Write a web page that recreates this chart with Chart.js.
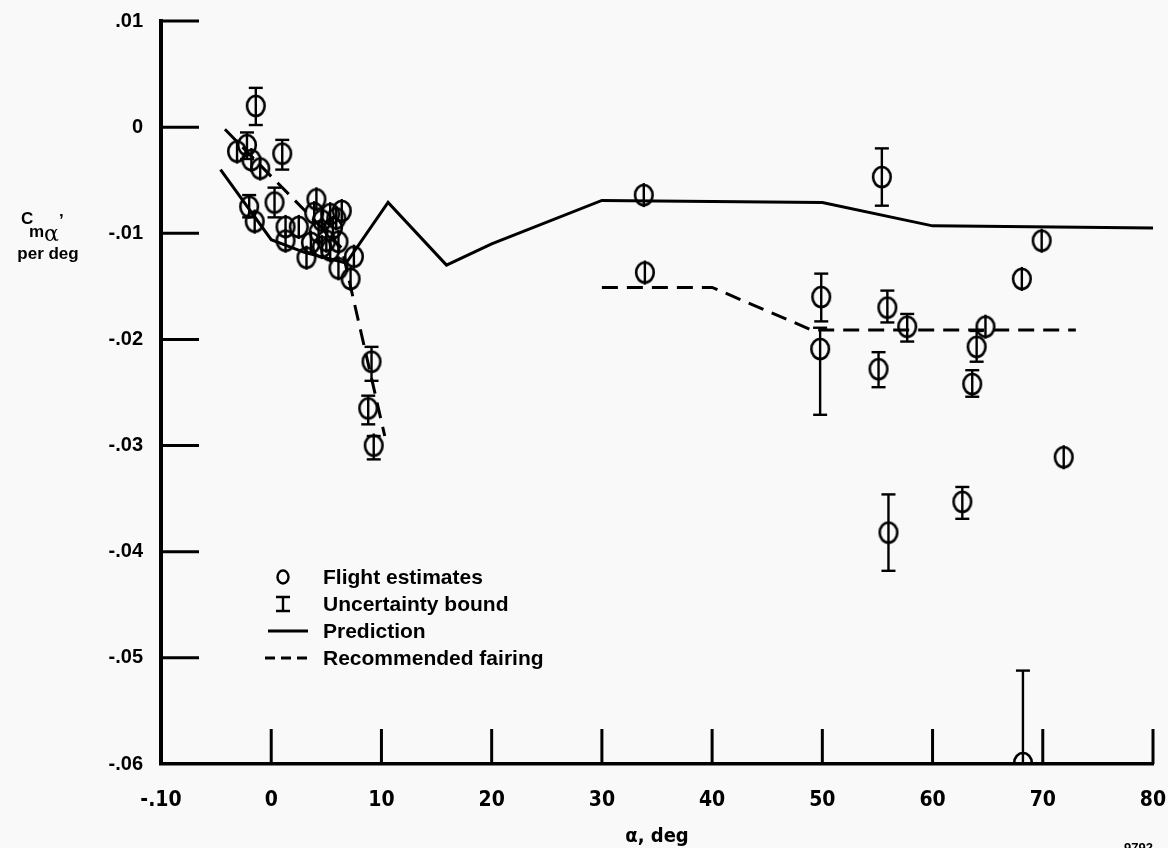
<!DOCTYPE html>
<html>
<head>
<meta charset="utf-8">
<script src="https://cdn.jsdelivr.net/npm/chart.js@4.4.0/dist/chart.umd.min.js"></script>
<style>
  html, body { margin: 0; padding: 0; background: #f9f9f9; }
  #wrap { width: 1168px; height: 848px; }
</style>
</head>
<body>
<div id="wrap"><canvas id="cmaChart" width="1168" height="848"></canvas></div>
<script>
// flight estimates, alpha in deg
const alphaFlight = [-3.1, -2.2, -1.8, -1.0, -1.4, 1.0, -2.0, -1.5, 0.3, 1.3, 1.3, 2.5, 3.2, 4.1, 6.4, 6.1, 7.5, 7.2,
  9.1, 8.8, 9.3, 3.9, 4.6, 5.35, 4.3, 5.0, 5.6, 6.1, 4.6, 3.6, 5.35, 5.9,
  33.8, 33.9, 49.9, 49.8, 55.4, 55.9, 57.7, 55.1, 56.0, 62.7, 63.6, 64.0, 64.8, 68.1, 69.9, 71.9, 68.2];
const cmaFlight = [-0.0023, -0.0017, -0.0031, -0.0039, 0.0020, -0.0025, -0.0075, -0.0089, -0.0071, -0.0094, -0.0107, -0.0094, -0.0123, -0.0068, -0.0079, -0.0133, -0.0122, -0.0143,
  -0.0221, -0.0265, -0.0300, -0.0081, -0.0088, -0.0082, -0.0099, -0.0107, -0.0095, -0.0108, -0.0113, -0.0109, -0.0116, -0.0086,
  -0.0064, -0.0137, -0.0160, -0.0209, -0.0047, -0.0170, -0.0188, -0.0228, -0.0382, -0.0353, -0.0242, -0.0207, -0.0188, -0.0143, -0.0107, -0.0311, -0.0599];
// uncertainty bounds (null where the bound stays inside the symbol)
const boundLow = [null, -0.0030, null, null, 0.0002, -0.0040, -0.0085, null, -0.0085, null, null, null, null, null, null, null, null, null,
  -0.0239, -0.0280, -0.0313, null, null, null, null, null, null, null, null, null, null, null,
  null, null, -0.0183, -0.0271, -0.0074, -0.0184, -0.0202, -0.0245, -0.0418, -0.0369, -0.0254, -0.0221, null, null, null, null, -0.0600];
const boundHigh = [null, -0.0005, null, null, 0.0037, -0.0012, -0.0064, null, -0.0057, null, null, null, null, null, null, null, null, null,
  -0.0207, -0.0253, -0.0291, null, null, null, null, null, null, null, null, null, null, null,
  null, null, -0.0138, -0.0189, -0.0020, -0.0154, -0.0176, -0.0212, -0.0346, -0.0339, -0.0229, -0.0192, null, null, null, null, -0.0512];

// prediction
const alphaPred = [-4.6, 0, 3, 6.8, 10.6, 15.9, 20, 30, 50, 60, 80];
const cmaPred = [-0.0040, -0.0106, -0.0118, -0.0128, -0.0071, -0.0130, -0.0110, -0.0069, -0.0071, -0.0093, -0.0095];

// recommended fairing, low and high alpha parts
const alphaFairLow = [-4.2, 6.4, 10.3];
const cmaFairLow = [-0.0002, -0.0114, -0.0291];
const alphaFairHigh = [30, 40, 49, 73];
const cmaFairHigh = [-0.0151, -0.0151, -0.0191, -0.0191];

const xTickValues = [-10, 0, 10, 20, 30, 40, 50, 60, 70, 80];
const yTickValues = [0.01, 0, -0.01, -0.02, -0.03, -0.04, -0.05, -0.06];

const legendItems = ['Flight estimates', 'Uncertainty bound', 'Prediction', 'Recommended fairing'];

const toXY = (xs, ys) => xs.map((x, i) => ({ x: x, y: ys[i] }));

function fmtY(v) {
  const r = Math.round(v * 100);
  if (r === 0) return '0';
  return (r < 0 ? '-' : '') + '.' + String(Math.abs(r)).padStart(2, '0');
}

// oval symbol used for the flight estimates
function makeOval() {
  const c = document.createElement('canvas');
  c.width = 24; c.height = 28;
  const g = c.getContext('2d');
  g.strokeStyle = '#000';
  g.lineWidth = 2.6;
  g.beginPath();
  g.ellipse(12, 14, 8.8, 10, 0, 0, Math.PI * 2);
  g.stroke();
  return c;
}

const BOLD = "'Liberation Sans', Arial, sans-serif";
const NARROW = "'Liberation Sans Narrow', 'DejaVu Sans Condensed', 'Liberation Sans', sans-serif";

const decor = {
  id: 'decor',
  afterDatasetsDraw(chart) {
    const ctx = chart.ctx;
    const area = chart.chartArea;
    const ys = chart.scales.y;
    const meta = chart.getDatasetMeta(0);
    ctx.save();
    ctx.beginPath();
    ctx.rect(area.left, area.top - 2, area.right - area.left, area.bottom - area.top + 2);
    ctx.clip();
    ctx.strokeStyle = '#000';
    ctx.lineWidth = 2.4;
    meta.data.forEach((pt, i) => {
      let top = pt.y - 12, bot = pt.y + 12;
      const hi = boundHigh[i], lo = boundLow[i];
      if (hi !== null) top = Math.min(top, ys.getPixelForValue(hi));
      if (lo !== null) bot = Math.max(bot, ys.getPixelForValue(lo));
      ctx.beginPath();
      ctx.moveTo(pt.x, top);
      ctx.lineTo(pt.x, bot);
      ctx.stroke();
      [hi, lo].forEach(b => {
        if (b === null) return;
        const by = ys.getPixelForValue(b);
        ctx.beginPath();
        ctx.moveTo(pt.x - 7, by);
        ctx.lineTo(pt.x + 7, by);
        ctx.stroke();
      });
    });
    ctx.restore();
  },
  afterDraw(chart) {
    const ctx = chart.ctx;
    const area = chart.chartArea;
    const xs = chart.scales.x, ys = chart.scales.y;
    ctx.save();
    ctx.strokeStyle = '#000';
    ctx.fillStyle = '#000';
    ctx.lineWidth = 3;
    // inward tick marks
    xTickValues.forEach(v => {
      if (v === -10) return;
      const px = xs.getPixelForValue(v);
      ctx.beginPath();
      ctx.moveTo(px, area.bottom);
      ctx.lineTo(px, area.bottom - 35);
      ctx.stroke();
    });
    yTickValues.forEach(v => {
      if (v === -0.06) return;
      const py = ys.getPixelForValue(v);
      ctx.beginPath();
      ctx.moveTo(area.left, py);
      ctx.lineTo(area.left + 38, py);
      ctx.stroke();
    });

    // y axis title
    ctx.textBaseline = 'middle';
    ctx.textAlign = 'left';
    ctx.font = 'bold 17px ' + BOLD;
    ctx.fillText('C', 21, 219);
    ctx.fillText('m', 29, 232);
    ctx.font = '22px ' + "'DejaVu Serif', serif";
    ctx.fillText('\u03b1', 44, 235);
    ctx.font = 'bold 17px ' + BOLD;
    ctx.fillText('\u2019', 59, 221);
    ctx.textAlign = 'center';
    ctx.font = 'bold 17px ' + BOLD;
    ctx.fillText('per deg', 48, 254);

    // x axis title
    ctx.font = 'bold 20px ' + NARROW;
    ctx.fillText('\u03b1, deg', (area.left + area.right) / 2, 837);

    // legend
    const lx = 283, tx = 323, rows = [577, 604, 631, 658];
    ctx.lineWidth = 2.4;
    ctx.beginPath();
    ctx.ellipse(lx, rows[0], 5.5, 6.5, 0, 0, Math.PI * 2);
    ctx.stroke();
    ctx.beginPath();
    ctx.moveTo(lx, rows[1] - 7); ctx.lineTo(lx, rows[1] + 7);
    ctx.moveTo(lx - 7, rows[1] - 7); ctx.lineTo(lx + 7, rows[1] - 7);
    ctx.moveTo(lx - 7, rows[1] + 7); ctx.lineTo(lx + 7, rows[1] + 7);
    ctx.stroke();
    ctx.lineWidth = 3;
    ctx.beginPath();
    ctx.moveTo(268, rows[2]); ctx.lineTo(308, rows[2]);
    ctx.stroke();
    ctx.setLineDash([10, 6]);
    ctx.beginPath();
    ctx.moveTo(265, rows[3]); ctx.lineTo(309, rows[3]);
    ctx.stroke();
    ctx.setLineDash([]);
    ctx.textAlign = 'left';
    ctx.font = 'bold 21px ' + BOLD;
    legendItems.forEach((t, i) => ctx.fillText(t, tx, rows[i] + 1));

    // figure number
    ctx.font = 'bold 13px ' + BOLD;
    ctx.textBaseline = 'top';
    ctx.fillText('9792', 1124, 842);
    ctx.restore();
  }
};

new Chart(document.getElementById('cmaChart'), {
  type: 'scatter',
  data: {
    datasets: [
      {
        label: 'Flight estimates',
        data: toXY(alphaFlight, cmaFlight),
        pointStyle: makeOval(),
        pointRadius: 10,
        showLine: false
      },
      {
        label: 'Prediction',
        data: toXY(alphaPred, cmaPred),
        showLine: true,
        borderColor: '#000',
        borderWidth: 3,
        pointRadius: 0
      },
      {
        label: 'Recommended fairing',
        data: toXY(alphaFairLow, cmaFairLow),
        showLine: true,
        borderColor: '#000',
        borderWidth: 3,
        borderDash: [16, 9],
        pointRadius: 0
      },
      {
        label: 'Recommended fairing',
        data: toXY(alphaFairHigh, cmaFairHigh),
        showLine: true,
        borderColor: '#000',
        borderWidth: 3,
        borderDash: [16, 9],
        pointRadius: 0
      }
    ]
  },
  options: {
    responsive: false,
    animation: false,
    layout: { padding: { top: 21, right: 15, left: 0, bottom: 0 } },
    plugins: { legend: { display: false }, tooltip: { enabled: false } },
    scales: {
      x: {
        type: 'linear',
        min: -10,
        max: 80,
        afterBuildTicks: s => { s.ticks = xTickValues.map(v => ({ value: v })); },
        afterFit: s => { s.height = 84; s.paddingLeft = 0; s.paddingRight = 0; },
        grid: { display: false, drawTicks: false },
        border: { display: true, color: '#000', width: 3.5 },
        ticks: {
          color: '#000',
          padding: 24,
          maxRotation: 0,
          font: { family: NARROW, size: 21, weight: 'bold' },
          callback: v => (v === -10 ? '-.10' : String(v))
        }
      },
      y: {
        type: 'linear',
        min: -0.06,
        max: 0.01,
        afterBuildTicks: s => { s.ticks = yTickValues.map(v => ({ value: v })); },
        afterFit: s => { s.width = 161; s.paddingTop = 0; s.paddingBottom = 0; },
        grid: { display: false, drawTicks: false },
        border: { display: true, color: '#000', width: 4 },
        ticks: {
          color: '#000',
          padding: 18,
          font: { family: BOLD, size: 20, weight: 'bold' },
          callback: v => fmtY(v)
        }
      }
    }
  },
  plugins: [decor]
});
</script>
</body>
</html>
